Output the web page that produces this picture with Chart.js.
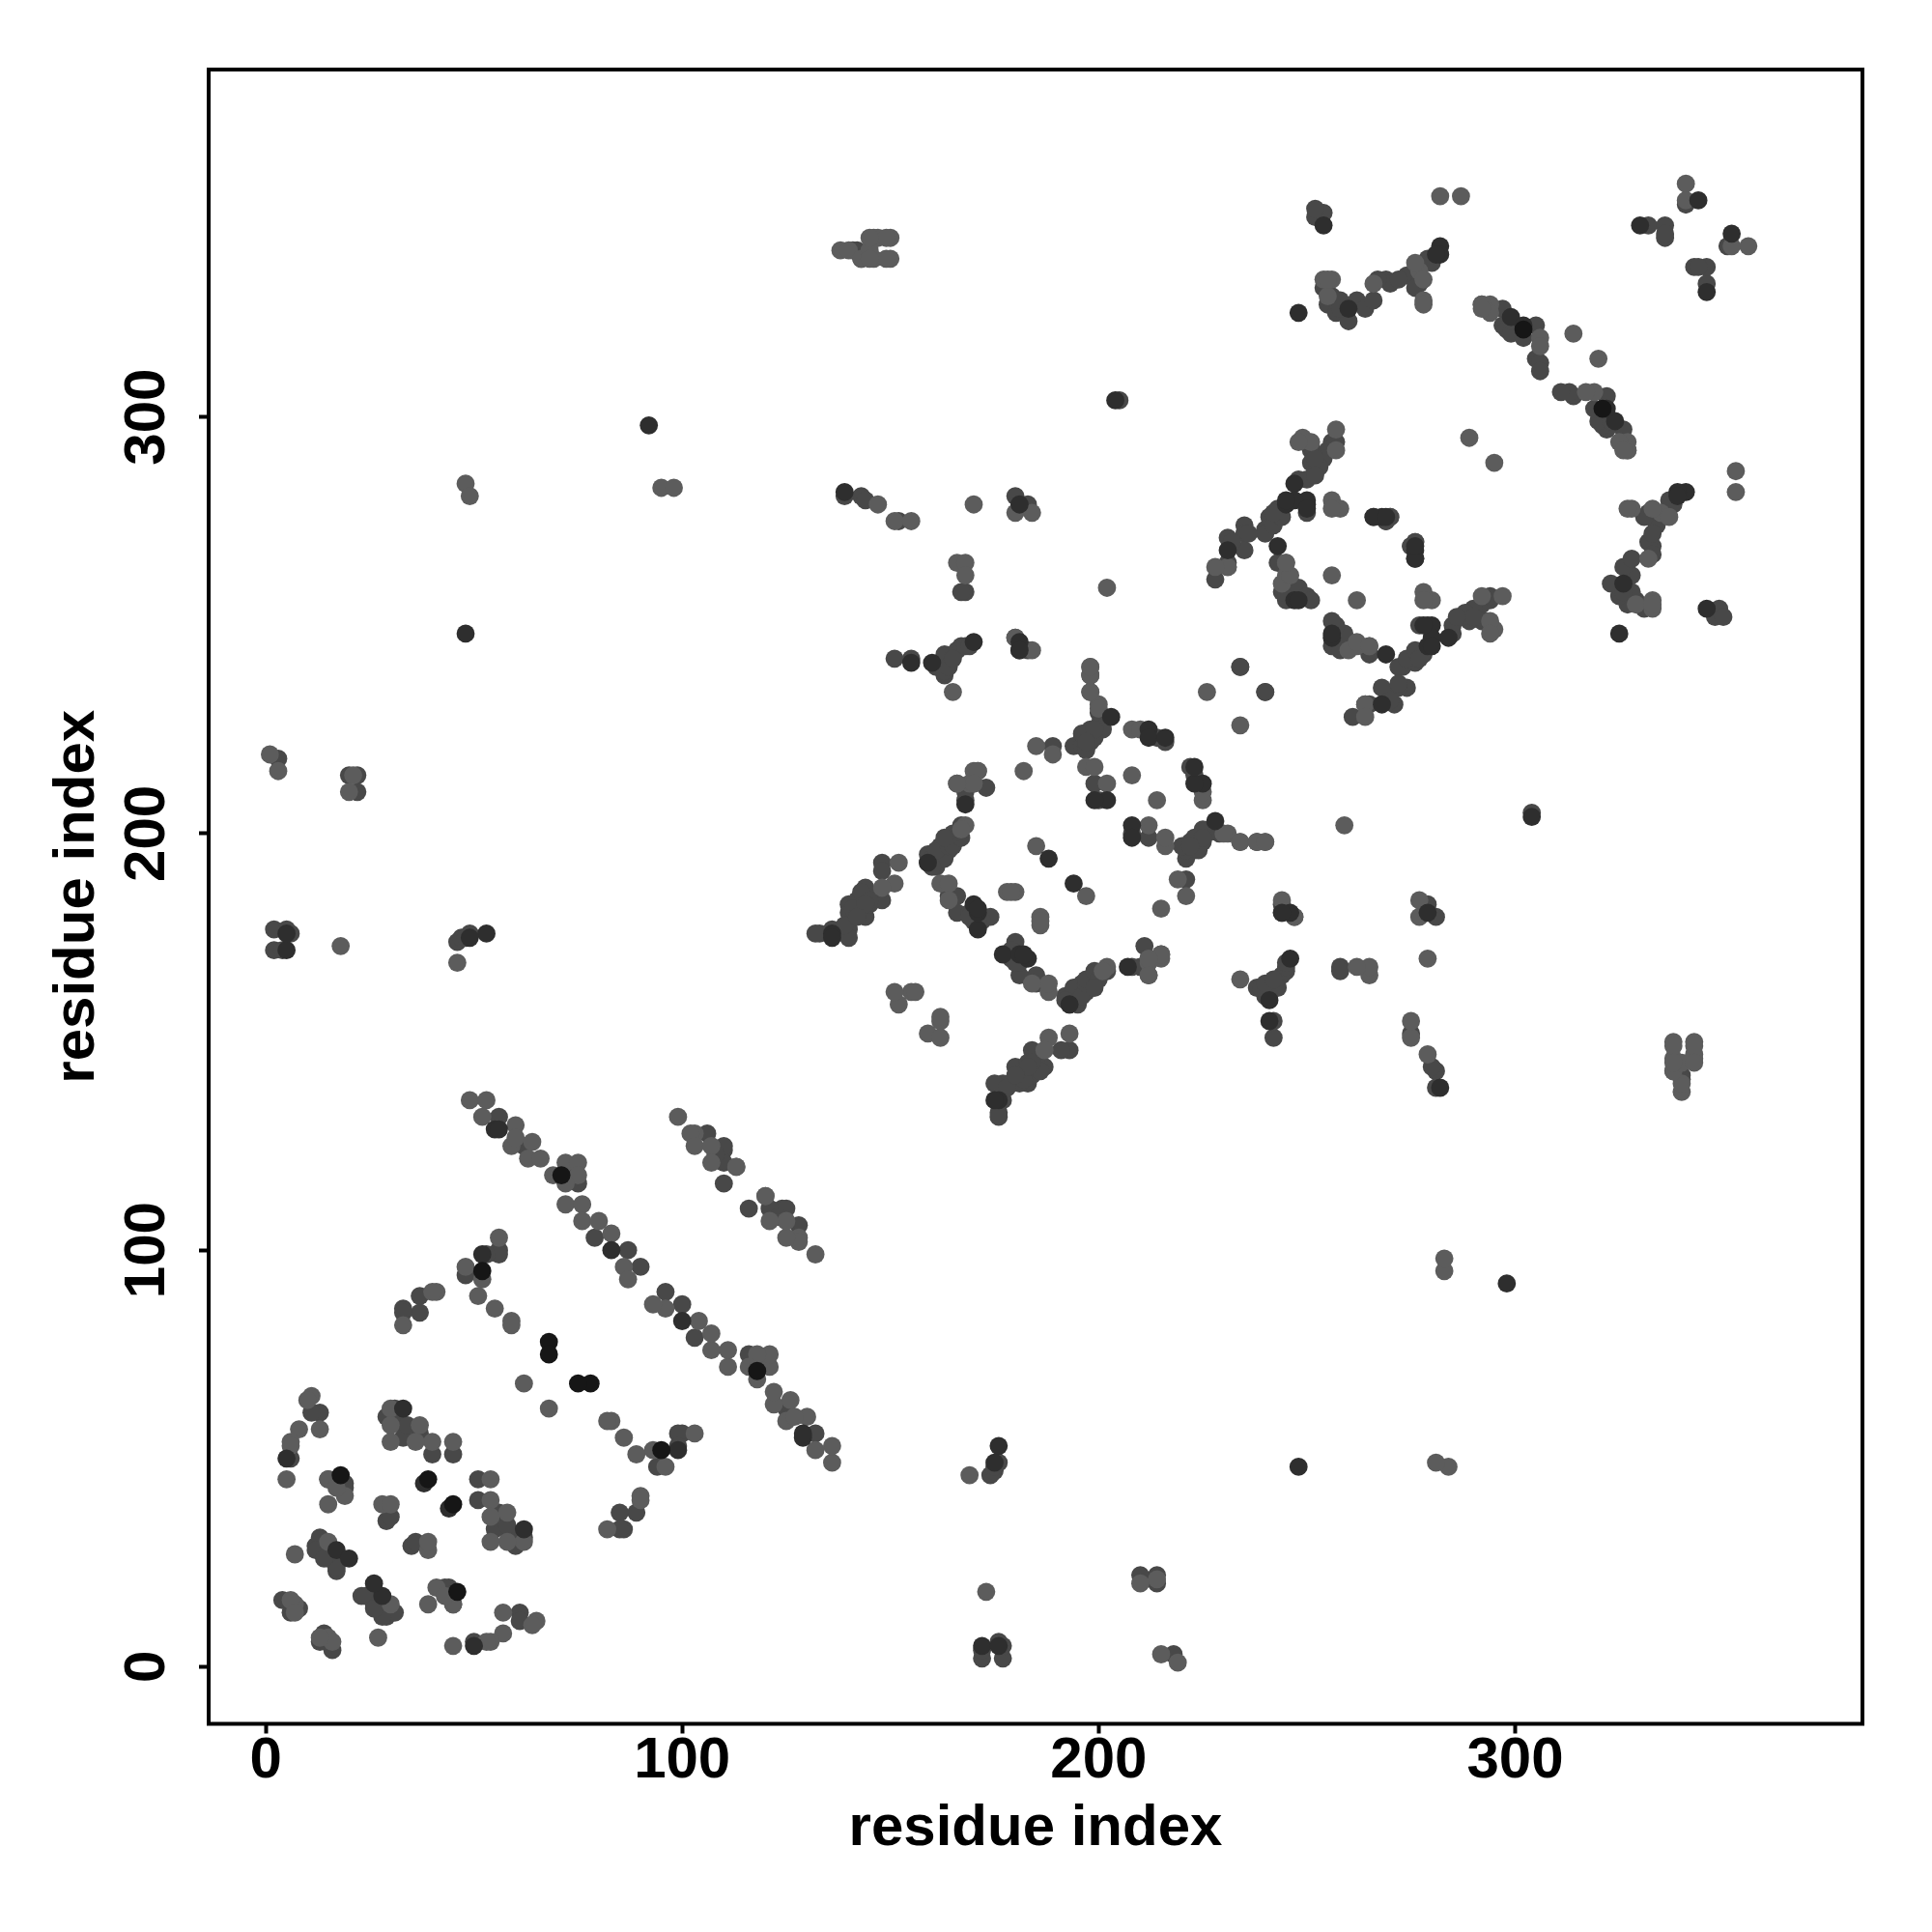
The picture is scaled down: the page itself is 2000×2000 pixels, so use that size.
<!DOCTYPE html>
<html>
<head>
<meta charset="utf-8">
<script src="https://cdn.jsdelivr.net/npm/chart.js@4"></script>
<style>
  html, body { margin: 0; background: #fff; }
  canvas { display: block; }
</style>
</head>
<body>
<canvas id="myChart" width="2000" height="2000"></canvas>
<script>
const tickValues = [0, 100, 200, 300];
const axisLabel = "residue index";

// the map is symmetric in the reference, each pair shows as (i,j) and (j,i)
const lightContacts = [
  [49,136],[53,136],[52,132],[60,130],[59,125],[60,127],[64,126],[63,122],[66,122],[72,121],[75,121],
  [69,118],[75,118],[72,116],[72,111],[76,111],[76,107],[80,107],[83,104],[86,96],[87,93],
  [99,132],[103,128],[102,128],[103,125],[107,125],[113,120],[107,121],[120,113],
  [56,103],[48,96],[52,93],[51,89],[55,86],[59,83],[59,82],[41,90],[40,90],[33,82],[62,68],
  [11,65],[10,64],[13,57],[8,57],[6,54],[6,53],[5,45],[30,62],[30,58],[30,54],[37,58],[40,54],
  [45,54],[36,54],[15,45],[15,39],[28,39],[30,39],[7,27],[15,30],[19,41],[17,43],[7,15],[6,16],[7,13],
  [165,234],[198,240],[198,238],[198,234],[200,231],[208,225],[210,225],[182,215],[189,219],[185,221],
  [208,214],[197,216],[199,216],[202,212],[170,215],[169,212],[166,212],[168,202],[167,201],
  [152,193],[151,188],[148,187],[162,188],[164,188],[164,184],[178,186],[180,186],[179,186],
  [152,159],[155,162],[151,162],[156,162],[185,197],[215,171],[212,170],[212,166],[198,238],[184,244],
  [200,230],[198,234],[238,198],[240,198],[247,180],[282,353],[287,353],[254,333],[256,333],[266,332],
  [278,328],[277,335],[276,337],[292,327],[294,327],[294,325],[306,319],[306,317],[314,320],
  [292,327],[292,326],[341,356],[341,352],[257,297],[249,295],[251,294],[257,292],
  [256,280],[258,278],[256,278],[245,265],[245,262],[244,260],[246,262],[245,265],[289,295],[294,248],
  [264,231],[228,264],[226,234],[256,262],[1,219],[3,215],[18,173],[46,169],[48,284],[49,281],
  [95,283],[98,283],[138,340],[140,340],[146,343],[147,343],[146,338],[150,338],[151,275],[155,275],
  [147,279],[170,279],[166,265],[168,265],[168,262],[180,277],[184,277],[202,259],[150,343],
  [21,214],[20,210],[278,327],[278,333],[255,329],[255,333],[143,338],[145,340],[149,338],[149,343],
  [145,338],[145,343]
];
const midContacts = [
  [56,132],[62,125],[79,103],[87,100],[90,96],[72,118],[75,116],[106,128],[110,124],[110,121],[110,116],
  [110,125],[108,123],[56,100],[56,99],[53,99],[48,94],[37,89],[37,85],[33,86],[33,85],
  [13,61],[11,61],[29,60],[31,60],[33,58],[33,55],[37,56],[40,51],[45,51],[34,58],[31,62],
  [19,44],[19,43],[29,35],[30,36],[13,30],[12,29],[13,28],[17,25],[15,26],[17,23],[13,31],[17,24],
  [15,27],[12,28],[15,45],[4,16],[6,13],[8,14],[6,50],[14,26],
  [151,242],[155,242],[161,240],[162,241],[163,238],[163,239],[163,243],[164,240],[166,244],[167,245],
  [168,245],[169,245],[165,242],[180,247],[181,244],[183,244],[200,229],[201,228],[200,226],[198,225],
  [197,223],[196,223],[194,221],[196,221],[199,224],[198,222],[216,222],[214,223],[189,221],
  [199,212],[200,208],[171,215],[173,211],[168,210],[166,200],[165,199],[163,197],[164,196],[159,195],
  [160,194],[161,192],[159,193],[163,194],[162,197],[161,196],[148,193],[148,191],[144,187],[146,185],
  [148,184],[140,183],[142,184],[140,181],[144,180],[140,177],[136,177],[133,176],[140,175],[142,181],
  [145,183],[143,186],[141,182],[164,185],[166,185],[166,181],[174,180],[170,179],[172,179],[169,181],
  [171,179],[169,180],[160,192],[164,197],[165,197],[167,199],[167,202],[165,200],
  [163,199],[170,212],[168,208],[201,225],[199,223],[197,221],[197,220],[196,224],
  [199,225],[197,222],[145,184],[144,183],[139,178],[142,180],[132,176],[252,348],[254,349],
  [252,350],[254,331],[255,327],[256,329],[257,325],[258,328],[260,323],[262,328],[264,326],[266,328],
  [269,333],[270,332],[274,334],[277,332],[276,331],[279,338],[280,337],[267,333],[272,333],[258,326],
  [297,326],[297,322],[298,321],[299,320],[299,323],[302,319],[305,322],[305,314],[306,313],[306,311],
  [332,346],[336,346],[336,343],[336,344],[341,351],[256,294],[255,292],[251,292],[251,289],[252,287],
  [248,285],[250,285],[250,277],[243,278],[241,276],[243,276],[240,273],[240,272],[242,274],[254,290],
  [253,288],[235,274],[235,272],[231,271],[235,268],[231,265],[228,261],[243,265],[245,259],[248,259],
  [250,257],[245,256],[251,256],[244,258],[276,270],[275,269],[276,266],[269,275],[270,276],[257,294],
  [251,293],[252,290],[252,286],[244,276],[242,277],[232,270],[236,272],[231,264],[3,218],[20,214],
  [22,214],[22,210],[2,177],[5,177],[6,176],[2,172],[4,172],[46,174],[47,175],[48,175],[49,176],[139,281],
  [143,281],[144,280],[152,275],[168,258],[167,258],[180,281],[183,279],[142,340],[143,338],[205,304],
  [234,240],[240,234],[141,340]
];
const darkContacts = [
  [52,99],[33,62],[55,129],[56,129],[83,100],[5,50],[17,28],[20,26],[38,44],[92,298],[48,248],[188,194],
  [155,241],[160,241],[170,246],[181,246],[181,244],[203,228],[212,225],[212,223],[216,223],
  [168,207],[202,208],[199,208],[171,177],[170,183],[171,181],[171,182],[159,193],
  [136,176],[136,175],[282,341],[282,339],[281,339],[254,346],[330,346],[344,352],[260,326],[299,324],
  [302,322],[248,325],[245,279],[247,284],[231,268],[243,269],[276,268],[266,276],[269,276],[250,279],
  [247,256],[248,256],[250,280],[247,280],[53,176],[5,172],[49,175],[5,176],[204,304],[181,279],
  [139,282],[245,280],[250,278]
];
const blackContacts = [
  [68,78],[68,75],[71,118],[39,45],[18,46],[52,95],[302,321]
];

const shades = { light: "#5c5c5c", mid: "#484848", dark: "#2e2e2e", black: "#161616" };

function bothSides(contacts) {
  return contacts.flatMap(([i, j]) => [{ x: i, y: j }, { x: j, y: i }]);
}

function dots(contacts, color, order) {
  return {
    data: bothSides(contacts),
    order: order,
    pointRadius: 9.4,
    pointBorderWidth: 0,
    pointBackgroundColor: color,
    pointHoverRadius: 9.4,
  };
}

function axis(extra) {
  return Object.assign({
    type: "linear",
    min: -13.7,
    max: 383.4,
    afterBuildTicks: (s) => { s.ticks = tickValues.map((v) => ({ value: v })); },
    border: { display: false },
    grid: { drawOnChartArea: false, tickLength: 10, tickWidth: 4, tickColor: "#000" },
  }, extra);
}

const labelFont = { family: "Liberation Sans", weight: "bold", size: 60 };

const frame = {
  id: "frame",
  afterDraw(chart) {
    const a = chart.chartArea, c = chart.ctx;
    c.save();
    c.strokeStyle = "#000";
    c.lineWidth = 4;
    c.strokeRect(a.left, a.top, a.right - a.left, a.bottom - a.top);
    c.restore();
  },
};

var ctx = document.getElementById("myChart");
var myChart = new Chart(ctx, {
  type: "scatter",
  data: {
    datasets: [
      dots(midContacts, shades.mid, 4),
      dots(lightContacts, shades.light, 3),
      dots(darkContacts, shades.dark, 2),
      dots(blackContacts, shades.black, 1),
    ],
  },
  options: {
    responsive: false,
    animation: false,
    layout: { padding: { left: 0, top: 72, right: 72, bottom: 0 } },
    plugins: { legend: { display: false }, tooltip: { enabled: false } },
    scales: {
      x: axis({
        afterFit: (s) => { s.height = 215.5; },
        ticks: { color: "#000", font: labelFont, padding: -7, maxRotation: 0, autoSkip: false },
        title: { display: true, text: axisLabel, color: "#000", font: labelFont, padding: { top: 0, bottom: 71 } },
      }),
      y: axis({
        afterFit: (s) => { s.width = 216; },
        ticks: { color: "#000", font: labelFont, padding: 2, minRotation: 90, maxRotation: 90, crossAlign: "center", autoSkip: false },
        title: { display: true, text: axisLabel, color: "#000", font: labelFont, padding: { top: 44, bottom: 0 } },
      }),
    },
  },
  plugins: [frame],
});
</script>
</body>
</html>
